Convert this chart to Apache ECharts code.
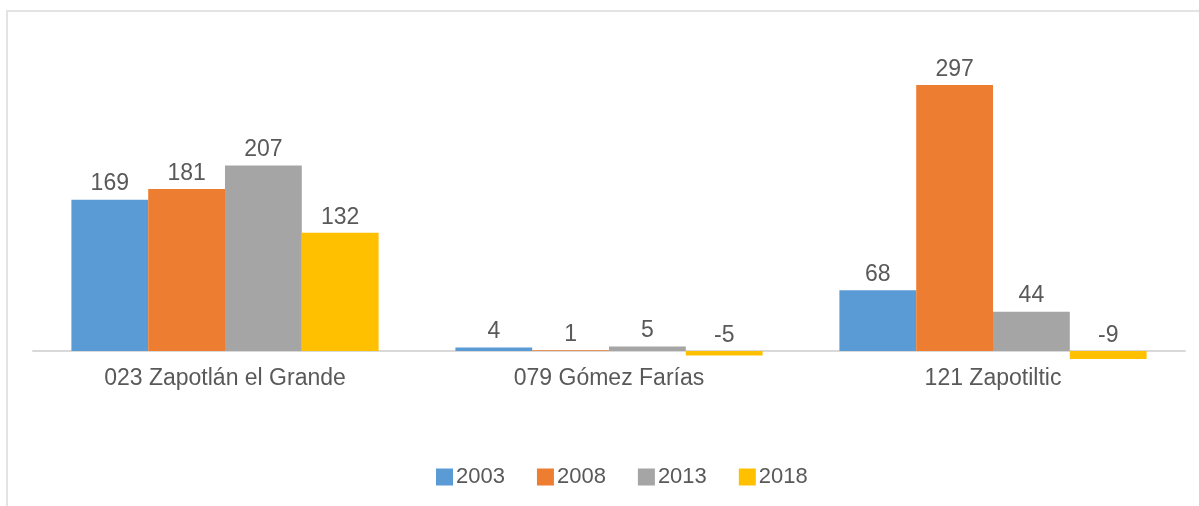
<!DOCTYPE html>
<html>
<head>
<meta charset="utf-8">
<script src="https://cdn.jsdelivr.net/npm/echarts@6/dist/echarts.min.js"></script>
<style>
  html, body { margin: 0; padding: 0; background: #fff; }
  #chart { width: 1199px; height: 506px; }
</style>
</head>
<body>
<div id="chart"></div>
<script>
// municipios y años
var categories = ['023 Zapotlán el Grande', '079 Gómez Farías', '121 Zapotiltic']
var years = ['2003', '2008', '2013', '2018']
var values2003 = [169, 4, 68]
var values2008 = [181, 1, 297]
var values2013 = [207, 5, 44]
var values2018 = [132, -5, -9]
var colors = ['#5b9bd5', '#ed7d31', '#a5a5a5', '#ffc000']

var textColor = '#595959'
var fontFamily = '"Liberation Sans", Arial, sans-serif'

var chart = echarts.init(document.getElementById('chart'))

function makeSeries(name, data, color) {
  return {
    name: name,
    type: 'bar',
    data: data,
    barGap: '0%',
    barCategoryGap: '20%',
    itemStyle: { color: color },
    label: {
      show: true,
      position: 'top',
      distance: 4,
      color: textColor,
      fontSize: 23,
      fontFamily: fontFamily
    }
  }
}

var option = {
  animation: false,
  graphic: [{
    type: 'rect',
    shape: { x: 7, y: 11, width: 1260, height: 560 },
    style: { fill: 'none', stroke: '#e3e3e3', lineWidth: 2 },
    silent: true
  }],
  legend: {
    data: years,
    left: 431,
    top: 461,
    itemWidth: 17,
    itemHeight: 17,
    itemGap: 32,
    icon: 'rect',
    textStyle: { color: textColor, fontSize: 22, fontFamily: fontFamily, padding: [0, 0, 0, -2] }
  },
  grid: {
    left: 33,
    right: 14,
    top: 37.5,
    bottom: 146
  },
  xAxis: {
    type: 'category',
    data: categories,
    axisLine: { show: true, lineStyle: { color: '#d9d9d9', width: 2 } },
    axisTick: { show: false },
    axisLabel: {
      color: textColor,
      fontSize: 23,
      fontFamily: fontFamily,
      margin: 7
    }
  },
  yAxis: {
    type: 'value',
    min: -10,
    max: 350,
    show: false,
    splitLine: { show: false }
  },
  series: [
    makeSeries(years[0], values2003, colors[0]),
    makeSeries(years[1], values2008, colors[1]),
    makeSeries(years[2], values2013, colors[2]),
    makeSeries(years[3], values2018, colors[3])
  ]
}
chart.setOption(option)
</script>
</body>
</html>
